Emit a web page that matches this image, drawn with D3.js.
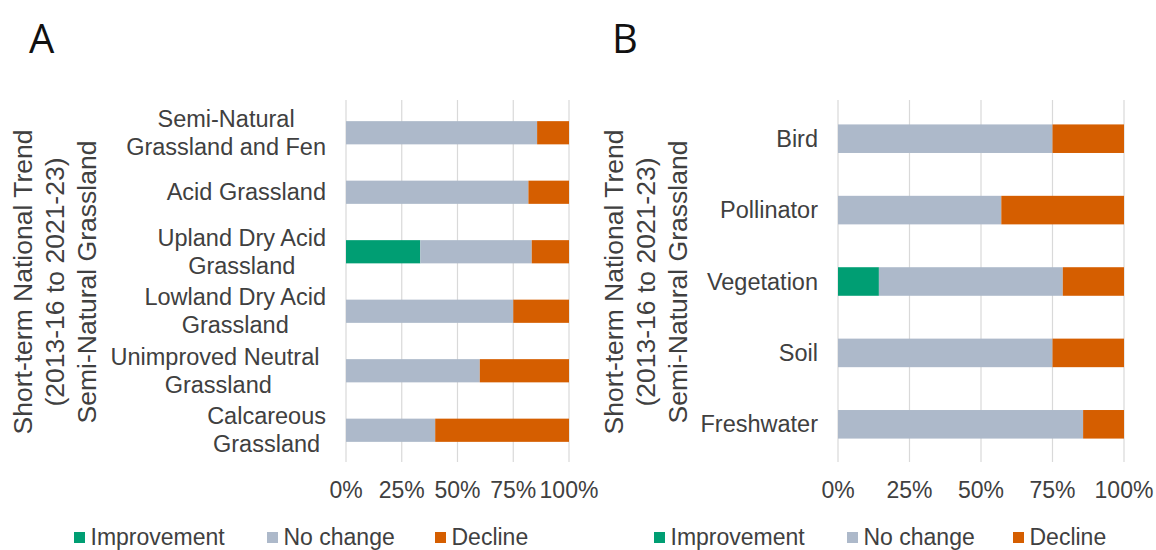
<html>
<head>
    <meta charset="UTF-8">
    <title>Short-term National Trend - Semi-Natural Grassland</title>
    <script src="https://d3js.org/d3.v7.min.js"></script>
    <style>
        body { margin: 0; background: #fff; }
        text { font-family: "Liberation Sans", Arial, sans-serif; }
    </style>
</head>
<body>
    <svg width="1156" height="550"></svg>
    <script>
        // data (percent of sites)
        var series = ['Improvement', 'No change', 'Decline'];
        var colours = ['#009E73', '#ADB9CA', '#D55E00'];
        var ticks = [0, 25, 50, 75, 100];

        var habitatsA = ['Semi-Natural\nGrassland and Fen', 'Acid Grassland', 'Upland Dry Acid\nGrassland',
                         'Lowland Dry Acid\nGrassland', 'Unimproved Neutral \nGrassland', 'Calcareous\nGrassland'];
        var improvementA = [0, 0, 33.3, 0, 0, 0];
        var noChangeA    = [85.7, 81.8, 50, 75, 60, 40];
        var declineA     = [14.3, 18.2, 16.7, 25, 40, 60];

        var groupsB = ['Bird', 'Pollinator', 'Vegetation', 'Soil', 'Freshwater'];
        var improvementB = [0, 0, 14.3, 0, 0];
        var noChangeB    = [75, 57.1, 64.3, 75, 85.7];
        var declineB     = [25, 42.9, 21.4, 25, 14.3];

        var axisTitle = ['Short-term National Trend', '(2013-16 to 2021-23)', 'Semi-Natural Grassland'];

        var svg = d3.select('svg');
        var textColour = '#404040';
        var labelSize = 23.5;

        function panel(opt) {
            var g = svg.append('g');
            var rows = opt.cats.map(function(c, i) {
                return { cat: c, vals: [opt.imp[i], opt.none[i], opt.dec[i]] };
            });

            var x = d3.scaleLinear().domain([0, 100]).range([opt.x0, opt.x1]);
            var y = d3.scaleBand().domain(opt.cats).range([103, 460])
                        .paddingInner(opt.pad).paddingOuter(opt.pad / 2);

            // vertical gridlines
            g.append('g').selectAll('line').data(ticks).join('line')
                .attr('x1', d => x(d)).attr('x2', d => x(d))
                .attr('y1', 100).attr('y2', 462)
                .attr('stroke', '#d9d9d9').attr('stroke-width', 1.2);

            // stacked bars
            rows.forEach(function(r) {
                var acc = 0;
                r.vals.forEach(function(v, k) {
                    if (v > 0) {
                        g.append('rect')
                            .attr('x', x(acc)).attr('width', x(acc + v) - x(acc))
                            .attr('y', y(r.cat)).attr('height', y.bandwidth())
                            .attr('fill', colours[k]);
                    }
                    acc += v;
                });
            });

            // category labels: block right-aligned, wrapped lines centred in the block
            var right = opt.x0 - 20;
            var lab = g.append('g').selectAll('text').data(opt.cats).join('text')
                .attr('text-anchor', 'middle')
                .attr('fill', textColour)
                .style('white-space', 'pre')
                .style('font-size', labelSize + 'px');
            lab.each(function(d) {
                var lines = d.split('\n');
                var cy = y(d) + y.bandwidth() / 2;
                var t = d3.select(this);
                var spans = lines.map(function(l, i) {
                    return t.append('tspan')
                        .attr('y', cy + (i - (lines.length - 1) / 2) * 28 + 8)
                        .text(l);
                });
                var w = d3.max(spans, s => s.node().getComputedTextLength());
                spans.forEach(s => s.attr('x', right - w / 2));
            });

            // x axis tick labels
            g.append('g').selectAll('text').data(ticks).join('text')
                .attr('x', d => x(d)).attr('y', 498)
                .attr('text-anchor', 'middle')
                .attr('fill', textColour)
                .style('font-size', '23px')
                .text(d => d + '%');

            // rotated axis title
            g.append('g').selectAll('text').data(axisTitle).join('text')
                .attr('transform', (d, i) => 'translate(' + (opt.titleX + i * 32) + ',282) rotate(-90)')
                .attr('text-anchor', 'middle')
                .attr('dy', '0.35em')
                .attr('fill', textColour)
                .style('font-size', '26.5px')
                .text(d => d);

            // panel letter
            g.append('text')
                .attr('x', opt.letterX).attr('y', 53)
                .attr('fill', '#111')
                .style('font-size', '40px')
                .style('font-family', '"Open Sans", sans-serif')
                .text(opt.letter);

            // legend
            var leg = g.append('g').selectAll('g').data(series).join('g')
                .attr('transform', (d, i) => 'translate(' + opt.legendX[i] + ',0)');
            leg.append('rect')
                .attr('x', 0).attr('y', 532).attr('width', 11).attr('height', 11)
                .attr('fill', (d, i) => colours[i]);
            leg.append('text')
                .attr('x', 16.5).attr('y', 545)
                .attr('fill', textColour)
                .style('font-size', '23px')
                .text(d => d);
        }

        panel({ cats: habitatsA, imp: improvementA, none: noChangeA, dec: declineA,
                x0: 346, x1: 569, pad: 0.61, titleX: 23, letter: 'A', letterX: 29,
                legendX: [74, 267, 435] });
        panel({ cats: groupsB, imp: improvementB, none: noChangeB, dec: declineB,
                x0: 838, x1: 1124, pad: 0.6, titleX: 614, letter: 'B', letterX: 612,
                legendX: [654, 847, 1013] });
    </script>
</body>
</html>
